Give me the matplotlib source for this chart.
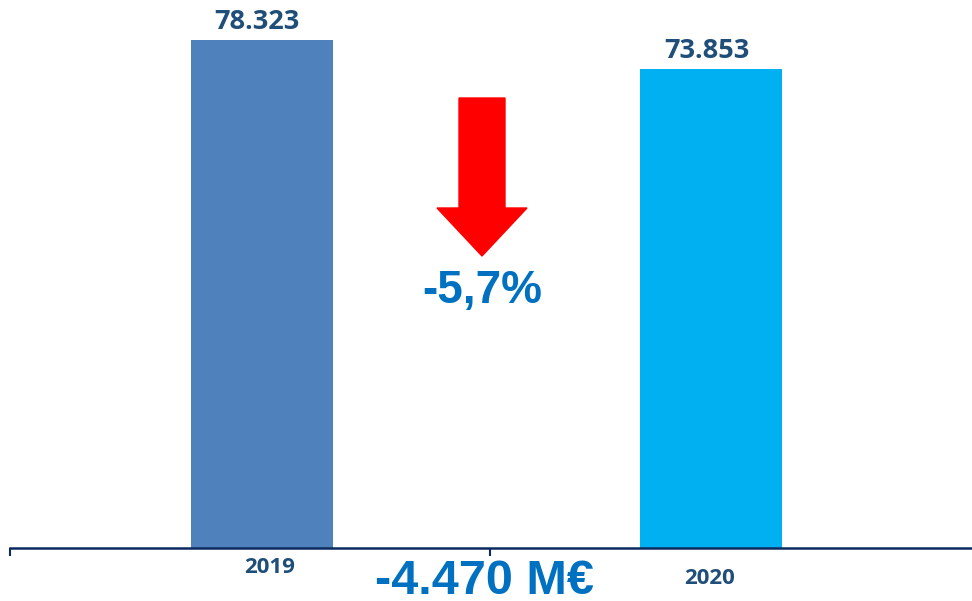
import matplotlib.pyplot as plt
from matplotlib.patches import FancyArrow

# data
years = ["2019", "2020"]
values = [78323, 73853]
value_labels = ["78.323", "73.853"]
change_pct = "-5,7%"
change_abs = "-4.470 M€"

bar_colors = ["#4F81BD", "#00B0F0"]
label_color = "#1F4E79"
big_color = "#0070C0"
axis_color = "#0C2A60"

fig = plt.figure(figsize=(9.72, 6.01), dpi=100)
ax = fig.add_axes([10 / 972, 53 / 601, 962 / 972, 548 / 601])

# bar layout (axis spans 0..2 over 960 px)
xpos = [0.525, 1.461]
bars = ax.bar(xpos, values, width=0.296, color=bar_colors, zorder=2)

for x, v, lab in zip(xpos, values, value_labels):
    ax.text(x - 0.01, v + 700, lab, ha="center", va="bottom",
            fontsize=19.5, fontweight="bold", color=label_color, family="Open Sans")

# category labels (sit at slightly different heights in the original)
ax.text(xpos[0] + 0.015, -3000, years[0], ha="center", va="center",
        fontsize=16, fontweight="bold", color=label_color, family="Open Sans")
ax.text(xpos[1] - 0.003, -4750, years[1], ha="center", va="center",
        fontsize=16, fontweight="bold", color=label_color, family="Open Sans")

ax.set_xlim(0, 962 / 480)
ax.set_ylim(0, 78323 * 548 / 508)

for s in ["top", "right", "left"]:
    ax.spines[s].set_visible(False)
ax.spines["bottom"].set_color(axis_color)
ax.spines["bottom"].set_linewidth(1.8)
ax.set_yticks([])
ax.set_xticks([0, 1])
ax.set_xticklabels([])
ax.tick_params(axis="x", direction="out", length=6, width=1.5, color=axis_color)

# red down arrow in axes coordinates
ax_w, ax_h = 962.0, 548.0
arrow = FancyArrow((482 - 10) / ax_w, (548 - 98) / ax_h, 0, -(256 - 98) / ax_h,
                   width=46 / ax_w, head_width=90 / ax_w, head_length=48 / ax_h,
                   length_includes_head=True, color="#FF0000",
                   transform=ax.transAxes, zorder=3)
ax.add_patch(arrow)

fig.text(482 / 972, 1 - 291 / 601, change_pct, ha="center", va="center",
         fontsize=33, fontweight="bold", color=big_color, family="Liberation Sans")
fig.text(484 / 972, 1 - 581 / 601, change_abs, ha="center", va="center",
         fontsize=35, fontweight="bold", color=big_color, family="Liberation Sans")

fig.savefig("out.png", dpi=100)
